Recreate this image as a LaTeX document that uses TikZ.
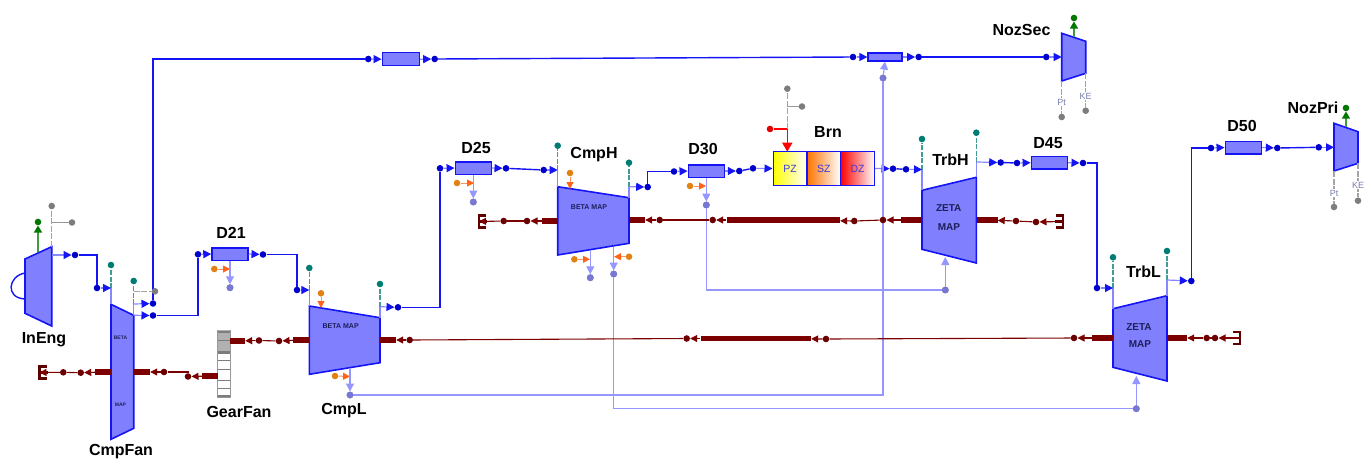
\documentclass[tikz,border=0pt]{standalone}
\usepackage{fontspec}
\setmainfont{Liberation Sans}
\usetikzlibrary{arrows.meta, positioning, calc}
\definecolor{ductcolor}{RGB}{128,128,255}
\definecolor{stubcolor}{RGB}{135,135,255}
\definecolor{flowcolor}{RGB}{20,20,245}
\definecolor{dotcolor}{RGB}{0,0,205}
\definecolor{tealcolor}{RGB}{0,125,115}
\definecolor{orangedot}{RGB}{225,130,20}
\definecolor{orangeline}{RGB}{255,100,25}
\definecolor{bleedcolor}{RGB}{150,150,255}
\definecolor{bleeddot}{RGB}{120,120,215}
\definecolor{shaftcolor}{RGB}{125,0,0}
\definecolor{greycolor}{RGB}{125,125,125}
\definecolor{greencolor}{RGB}{0,120,0}
\definecolor{mapcolor}{RGB}{30,30,90}
\definecolor{zonetext}{RGB}{60,60,220}
\definecolor{porttextcolor}{RGB}{120,125,170}

\begin{document}
\begin{tikzpicture}[
    x=1pt, y=-1pt,
    comp/.style={draw=flowcolor, line width=1.6pt, fill=ductcolor, line join=miter},
    duct/.style={rectangle, draw=flowcolor, line width=1.5pt, fill=ductcolor, inner sep=0pt, minimum width=36pt, minimum height=12.5pt},
    zone/.style={rectangle, draw=flowcolor, line width=1.3pt, inner sep=0pt, minimum width=33.7pt, minimum height=33.6pt, text=zonetext, font=\fontsize{10.5}{12}\selectfont},
    title/.style={font=\fontsize{16}{18}\selectfont\bfseries, inner sep=0pt},
    maptext/.style={font=\fontsize{7}{8}\selectfont\bfseries, text=mapcolor, inner sep=0pt},
    porttext/.style={font=\fontsize{9}{10}\selectfont, text=porttextcolor, fill=white, inner sep=0.6pt},
    dot/.style={circle, inner sep=0pt, minimum size=6.6pt},
    flowdot/.style={dot, fill=dotcolor},
    tealdot/.style={dot, fill=tealcolor},
    orgdot/.style={dot, fill=orangedot},
    greydot/.style={dot, fill=greycolor},
    greendot/.style={dot, fill=greencolor},
    reddot/.style={dot, fill=red!90!black},
    bldot/.style={dot, fill=bleeddot, draw=bleedcolor!70!black, line width=0.3pt},
    sftdot/.style={dot, fill=shaftcolor!85!black},
    bar/.style={rectangle, fill=shaftcolor, inner sep=0pt, minimum height=5.6pt},
    flow/.style={draw=flowcolor, line width=1.4pt},
    stub/.style={draw=stubcolor, line width=1.2pt},
    stubtip/.style={stub, -{Triangle[length=8pt,width=8pt,color=flowcolor]}},
    stadash/.style={draw=tealcolor!75!white, line width=1.4pt, dash pattern=on 5pt off 1.5pt},
    greydash/.style={draw=greycolor!70!white, line width=1.4pt, dash pattern=on 6pt off 1.5pt},
    greyline/.style={draw=greycolor!80!white, line width=1.2pt},
    bleed/.style={draw=bleedcolor, line width=1.2pt},
    bleedtip/.style={bleed, -{Triangle[length=8pt,width=8pt,color=bleedcolor]}},
    orgarrow/.style={draw=orangeline!70!white, line width=1pt, -{Triangle[length=7pt,width=7pt,color=orangeline]}},
    greenarrow/.style={draw=greencolor!75!white, line width=1.2pt, -{Triangle[length=7pt,width=8pt,color=greencolor]}},
    redarrow/.style={draw=red, line width=1.4pt, -{Triangle[length=9pt,width=10pt,color=red]}},
    shaft/.style={draw=shaftcolor, line width=1.1pt},
    shafttip/.style={shaft, -{Triangle[length=7pt,width=7pt,color=shaftcolor]}},
    shafttab/.style={draw=shaftcolor!75!black, line width=2.4pt},
    gearline/.style={draw=greycolor, line width=1pt},
    gearband/.style={draw=greycolor, line width=2.6pt}
]
\useasboundingbox (0,0) rectangle (1371,459);

\draw[flow, fill=white] (25,273) .. controls (8,276) and (5,298) .. (25,299);
\foreach \name/\xa/\xb/\ya/\yb/\yc/\yd in {
    ineng/25/51.7/259/313.3/246.7/326,
    fan/111/133.7/304.3/439.3/315.3/428.3,
    cmpl/309.3/380/306/374.3/317.7/362.7,
    cmph/557.7/629/186.7/255/197.7/243.3,
    trbh/922/976.3/190.3/249.3/177.3/263,
    trbl/1113/1167/308.7/367.3/295.7/381,
    nozsec/1061.7/1085.7/33.3/81/41.3/73.3,
    nozpri/1334/1358/123.3/171/131.7/163.3} {
    \coordinate (\name-lt) at (\xa,\ya);
    \coordinate (\name-lb) at (\xa,\yb);
    \coordinate (\name-rt) at (\xb,\yc);
    \coordinate (\name-rb) at (\xb,\yd);
    \draw[comp] (\name-lt) -- (\name-rt) -- (\name-rb) -- (\name-lb) -- cycle;
}

\node[maptext, font=\fontsize{5}{6}\selectfont\bfseries] (fanbeta) at (120.5,338) {BETA};
\node[maptext, font=\fontsize{5}{6}\selectfont\bfseries] (fanmap) at (120.5,405) {MAP};
\node[maptext] (cmplmap) at (340.7,326) {BETA MAP};
\node[maptext] (cmphmap) at (589,207) {BETA MAP};
\node[maptext, font=\fontsize{10}{11}\selectfont\bfseries] (trbhzeta) at (948.7,208) {ZETA};
\node[maptext, font=\fontsize{10}{11}\selectfont\bfseries] (trbhmap) at (949,226.7) {MAP};
\node[maptext, font=\fontsize{10}{11}\selectfont\bfseries] (trblzeta) at (1139,327) {ZETA};
\node[maptext, font=\fontsize{10}{11}\selectfont\bfseries] (trblmap) at (1140,344) {MAP};

\node[duct, minimum width=37pt, minimum height=13pt] (sec) at (400.8,59.2) {};
\node[duct, minimum width=33.7pt, minimum height=7.7pt] (mix) at (885,57) {};
\node[duct] (d21) at (230,254) {};
\node[duct] (d25) at (473.3,168) {};
\node[duct] (d30) at (706.3,171) {};
\node[duct] (d45) at (1049.3,162.7) {};
\node[duct] (d50) at (1243.3,147.5) {};

\node[zone, left color=yellow, right color=white] (pz) at (790,168.5) {PZ};
\node[zone, left color=orange!90!red, right color=white] (sz) at (823.8,168.5) {SZ};
\node[zone, left color=red, right color=white] (dz) at (857.5,168.5) {DZ};

\node[rectangle, draw=greycolor!80!white, line width=1pt, fill=white, inner sep=0pt, minimum width=12.5pt, minimum height=67pt] (gearfan) at (223.8,363.5) {};
\node[rectangle, fill=greycolor!60!white, inner sep=0pt, minimum width=12pt, minimum height=23pt] (geartop) at (223.8,341.5) {};
\foreach \y in {332,352.7,396} \draw[gearband] (217.8,\y) -- (230,\y);
\foreach \y in {340,360,369,380,388} \draw[gearline] (217.8,\y) -- (230,\y);

\foreach \name/\x/\y in {
    inengout/75/255, fanin/97/288, fansec/153/303.5, fanpri/153/315.5,
    d21in/198/254.3, d21out/263/254.5, cmplin/297/290, cmplout/398/307.3,
    d25in/440/168.3, d25out/506/168.3, cmphin/543.7/170, cmphout/647.7/187,
    d30in/674/171.5, d30out/739.3/171, brnin/753/168.3, brnout/893/168.7,
    trbhin/906/169.3, trbhout/1000.7/162.5, d45in/1017/163, d45out/1083/163,
    trblin/1097/288, trblout/1191.3/281, d50in/1211/148, d50out/1277.3/148,
    nozpriin/1318.7/147.3, secin/368.3/59, secout/434.7/59, mixin/853/57,
    mixout/918.7/57, nozsecin/1046.3/57} {
    \node[flowdot] (\name) at (\x,\y) {};
}

\foreach \name/\x/\ya/\yb/\corner in {
    stfanin/111/265/288/fan-lt,
    stfanout/133.7/281/304/fan-rt,
    stcmplin/309.3/268/290/cmpl-lt,
    stcmplout/380/284/306.7/cmpl-rt,
    stcmphin/557.7/145.7/170/cmph-lt,
    stcmphout/629/162.7/186.7/cmph-rt,
    sttrbhin/922/139/169.5/trbh-lt,
    sttrbhout/976.3/132.7/162/trbh-rt,
    sttrblin/1113/257.3/288/trbl-lt,
    sttrblout/1167/251/280/trbl-rt} {
    \node[tealdot] (\name-dot) at (\x,\ya) {};
    \coordinate (\name) at (\x,\yb);
    \draw[stadash] (\name) -- (\name-dot);
    \draw[stub] (\name) -- (\corner);
}

\coordinate (inengexit) at (51.7,255);
\coordinate (nozpriport) at (1334,147.3);
\coordinate (nozsecport) at (1061.7,57);
\draw[stubtip] (inengexit) -- (inengout);
\draw[flow] (inengout) -| (fanin);
\draw[stubtip] (fanin) -- (stfanin);
\draw[stubtip] (stfanout) -- (fansec);
\draw[stubtip] (fan-rt) -- (fanpri);
\draw[flow] (fansec) |- (secin);
\draw[flow] (fanpri) -| (d21in);
\draw[stubtip] (d21in) -- (d21.west);
\draw[stubtip] (d21.east) -- (d21out);
\draw[flow] (d21out) -| (cmplin);
\draw[stubtip] (cmplin) -- (stcmplin);
\draw[stubtip] (stcmplout) -- (cmplout);
\draw[flow] (cmplout) -| (d25in);
\draw[stubtip] (d25in) -- (d25.west);
\draw[stubtip] (d25.east) -- (d25out);
\draw[flow] (d25out) -- (cmphin);
\draw[stubtip] (cmphin) -- (stcmphin);
\draw[stubtip] (stcmphout) -- (cmphout);
\draw[flow] (cmphout) |- (d30in);
\draw[stubtip] (d30in) -- (d30.west);
\draw[stubtip] (d30.east) -- (d30out);
\draw[flow] (d30out) -- (brnin);
\draw[stubtip] (brnin) -- (pz.west);
\draw[stubtip] (dz.east) -- (brnout);
\draw[flow] (brnout) -- (trbhin);
\draw[stubtip] (trbhin) -- (sttrbhin);
\draw[stubtip] (sttrbhout) -- (trbhout);
\draw[flow] (trbhout) -- (d45in);
\draw[stubtip] (d45in) -- (d45.west);
\draw[stubtip] (d45.east) -- (d45out);
\draw[flow] (d45out) -| (trblin);
\draw[stubtip] (trblin) -- (sttrblin);
\draw[stubtip] (sttrblout) -- (trblout);
\draw[flow] (trblout) |- (d50in);
\draw[stubtip] (d50in) -- (d50.west);
\draw[stubtip] (d50.east) -- (d50out);
\draw[flow] (d50out) -- (nozpriin);
\draw[stubtip] (nozpriin) -- (nozpriport);
\draw[stubtip] (secin) -- (sec.west);
\draw[stubtip] (sec.east) -- (secout);
\draw[flow] (secout) -- (mixin);
\draw[stubtip] (mixin) -- (mix.west);
\draw[stubtip] (mix.east) -- (mixout);
\draw[flow] (mixout) -- (nozsecin);
\draw[stubtip] (nozsecin) -- (nozsecport);

\foreach \name/\xa/\ya/\xb/\yb in {
    orgd21/214.3/269/230/269,
    orgd25/457/183/474/183,
    orgd30/690/186/706/186,
    orgcmplin/321/293.3/321/308,
    orgcmphin/570/173/570/189,
    orgcmplb/335/376/350/376.5,
    orgcmpha/574.3/259.3/590/259.3,
    orgcmphb/629/256.7/614/256.7} {
    \node[orgdot] (\name) at (\xa,\ya) {};
    \coordinate (\name-end) at (\xb,\yb);
    \draw[orgarrow] (\name) -- (\name-end);
}

\foreach \name/\x/\y in {
    bld21/230/287.7, bld25/473.3/202, bld30/706.3/205, blcmpl/350/395,
    blcmpha/590.3/277.7, blcmphb/613.7/274, blmix/883/78,
    bltrbh/945.3/290, bltrbl/1136.3/408.7} {
    \node[bldot] (\name) at (\x,\y) {};
}
\coordinate (cmplbot) at (350,368);
\coordinate (cmphbota) at (590.3,250);
\coordinate (cmphbotb) at (613.7,247);
\coordinate (trbhbot) at (945.3,257);
\coordinate (trblbot) at (1136.3,376);
\draw[bleedtip] (d21.south) -- (bld21);
\draw[bleedtip] (d25.south) -- (bld25);
\draw[bleedtip] (d30.south) -- (bld30);
\draw[bleedtip] (cmplbot) -- (blcmpl);
\draw[bleedtip] (cmphbota) -- (blcmpha);
\draw[bleedtip] (cmphbotb) -- (blcmphb);
\draw[bleed] (blcmpl) -| (blmix);
\draw[bleedtip] (blmix) -- (mix.south);
\draw[bleed] (bld30) |- (bltrbh);
\draw[bleedtip] (bltrbh) -- (trbhbot);
\draw[bleed] (blcmphb) |- (bltrbl);
\draw[bleedtip] (bltrbl) -- (trblbot);

\foreach \name/\x/\y/\w in {
    fanl/103/372/16, fanr/142/372/16, gearl/210/376/16, gearr/237.5/341/15,
    cmpll/301.3/340/16, cmplr/388/340/16, midl/755.8/338.5/110.3,
    trbll/1102.5/338/21, trblr/1177/338/20,
    cmphl/550/221/16, cmphr/637/220/16, midh/783.3/220/113.3,
    trbhl/911.5/220/21, trbhr/987/220/21} {
    \node[bar, minimum width=\w pt] (\name) at (\x,\y) {};
}
\foreach \name/\x/\y in {
    sa/63.3/372.3, sb/80.7/372.7, sc/164/372, sd/188/376.5, se/259/340.5,
    sf/279/341, sg/409.7/340, sh/686.7/338.5, si/826/339, sj/1074/338,
    sk/1206.7/338, sl/1215/338,
    ha/503.7/221, hb/527/221, hc/659.7/220, hd/712.7/220, he/854.3/221,
    hf/883/220, hg/1016/221, hh/1036/222} {
    \node[sftdot] (\name) at (\x,\y) {};
}
\foreach \name/\x/\y/\d in {
    tabfan/39.5/372.5/1, tabhl/479/221.5/1, tabhr/1063/221.5/-1, tablr/1240/338/-1} {
    \coordinate (\name) at (\x,\y);
    \draw[shafttab] ($(\name)+(\d*7,-6)$) -- ++(-\d*7,0) -- ++(0,12) -- ++(\d*7,0);
    \draw[shafttab] (\name) -- ++(\d*8,0);
}
\draw[shafttip] (sa) -- (tabfan);
\draw[shaft] (sa) -- (sb);
\draw[shafttip] (fanl) -- (sb);
\draw[shafttip] (sc) -- (fanr);
\draw[shaft] (sc) -| (sd);
\draw[shafttip] (gearl) -- (sd);
\draw[shafttip] (se) -- (gearr);
\draw[shaft] (se) -- (sf);
\draw[shafttip] (cmpll) -- (sf);
\draw[shafttip] (sg) -- (cmplr);
\draw[shaft] (sg) -- (sh);
\draw[shafttip] (midl) -- (sh);
\draw[shafttip] (si) -- (midl);
\draw[shaft] (si) -- (sj);
\draw[shafttip] (trbll) -- (sj);
\draw[shafttip] (sk) -- (trblr);
\draw[shaft] (sk) -- (sl);
\draw[shafttip] (tablr) -- (sl);
\draw[shafttip] (ha) -- (tabhl);
\draw[shaft] (ha) -- (hb);
\draw[shafttip] (cmphl) -- (hb);
\draw[shafttip] (hc) -- (cmphr);
\draw[shaft] (hc) -- (hd);
\draw[shafttip] (midh) -- (hd);
\draw[shafttip] (he) -- (midh);
\draw[shaft] (he) -- (hf);
\draw[shafttip] (trbhl) -- (hf);
\draw[shafttip] (hg) -- (trbhr);
\draw[shaft] (hg) -- (hh);
\draw[shafttip] (tabhr) -- (hh);

\node[greydot] (ingreya) at (51.7,206) {};
\node[greydot] (ingreyb) at (72,222.5) {};
\coordinate (ingreyc) at (51.7,222.5);
\draw[greydash] (ineng-rt) -- (ingreya);
\draw[greyline] (ingreyc) -- (ingreyb);
\node[greendot] (ingreen) at (38,222) {};
\coordinate (ingreenb) at (38,252);
\draw[greenarrow] (ingreenb) -- (ingreen);

\node[greydot] (fangrey) at (155,291.3) {};
\coordinate (fangreyb) at (133.7,291.3);
\draw[greydash] (fangreyb) -- (fangrey);

\node[greydot] (brngreya) at (787.3,88.7) {};
\node[greydot] (brngreyb) at (802,106.5) {};
\node[reddot] (brnred) at (770,129) {};
\coordinate (brnfuel) at (787.3,129);
\coordinate (brngreyc) at (787.3,106.5);
\coordinate (brnport) at (787.3,151.7);
\draw[greydash] (brnfuel) -- (brngreya);
\draw[greyline] (brngreyc) -- (brngreyb);
\draw[draw=red, line width=1.4pt] (brnred) -- (brnfuel);
\draw[redarrow] (brnfuel) -- (brnport);

\node[greendot] (secgreen) at (1074,18) {};
\coordinate (secgreenb) at (1074,37);
\draw[greenarrow] (secgreenb) -- (secgreen);
\node[greendot] (prigreen) at (1346,108) {};
\coordinate (prigreenb) at (1346,127);
\draw[greenarrow] (prigreenb) -- (prigreen);

\foreach \name/\corner/\x/\y/\txt/\ty in {
    secpt/nozsec-lb/1061.7/117/Pt/102,
    secke/nozsec-rb/1085.7/110.7/KE/96,
    pript/nozpri-lb/1334/207/Pt/193,
    prike/nozpri-rb/1358/200.7/KE/185} {
    \node[greydot] (\name) at (\x,\y) {};
    \draw[greydash] (\corner) -- (\name);
    \node[porttext] (\name-txt) at (\x,\ty) {\txt};
}

\foreach \name/\x/\y/\txt in {
    ineng/44/340/InEng, cmpfan/121/452/CmpFan, gearfan/239/412/GearFan,
    cmpl/344/411/CmpL, d21/231/233/D21, d25/476/148/D25, cmph/594/155/CmpH,
    d30/703/149/D30, brn/828/132/Brn, trbh/950.5/160/TrbH, d45/1048/143/D45,
    trbl/1143.5/272/TrbL, d50/1242/125.5/D50, nozpri/1313/108/NozPri,
    nozsec/1021.5/30/NozSec} {
    \node[title] (lbl\name) at (\x,\y) {\txt};
}
\end{tikzpicture}
\end{document}
